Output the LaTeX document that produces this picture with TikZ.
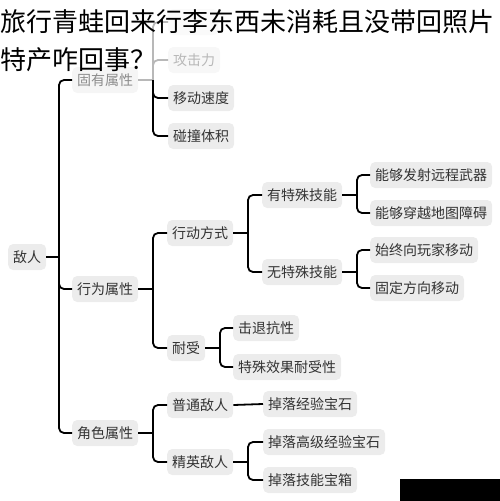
\documentclass[tikz,border=0pt]{standalone}
\usepackage{fontspec}
\usepackage{tikz}
\newfontfamily\cjk{Noto Sans CJK SC}

\begin{document}
\begin{tikzpicture}[x=1pt,y=-1pt,
  leaf/.style={anchor=west,fill=gray!15,rounded corners=5pt,inner xsep=5pt,inner ysep=0pt,
    minimum height=26pt,text=black!80,font=\cjk\fontsize{14}{16}\selectfont},
  faded/.style={fill=gray!8,text=black!45},
  paler/.style={fill=gray!6,text=black!28},
  ghost/.style={fill=gray!4,minimum width=50pt},
  link/.style={line width=1.8pt,rounded corners=5pt},
  pale/.style={draw=black!28}]
\useasboundingbox (0,0) rectangle (500,501);

% nodes
\node[leaf] (enemy) at (8,257) {敌人};
\node[leaf,faded] (innate) at (72,80) {固有属性};
\node[leaf] (behavior) at (72,289) {行为属性};
\node[leaf] (role) at (72,433) {角色属性};

\node[leaf,ghost] (hp) at (168,22) {};
\node[leaf,paler] (atk) at (168,60) {攻击力};
\node[leaf] (speed) at (168,98) {移动速度};
\node[leaf] (size) at (168,136) {碰撞体积};

\node[leaf] (move) at (167,233) {行动方式};
\node[leaf] (endure) at (167,348) {耐受};
\node[leaf] (skill) at (262,195) {有特殊技能};
\node[leaf] (noskill) at (262,272) {无特殊技能};
\node[leaf] (ranged) at (370,175) {能够发射远程武器};
\node[leaf] (pass) at (370,213) {能够穿越地图障碍};
\node[leaf] (chase) at (370,250) {始终向玩家移动};
\node[leaf] (fixdir) at (370,288) {固定方向移动};
\node[leaf] (knock) at (233,328) {击退抗性};
\node[leaf] (effect) at (233,367) {特殊效果耐受性};

\node[leaf] (normal) at (167,405) {普通敌人};
\node[leaf] (elite) at (167,462) {精英敌人};
\node[leaf] (gem) at (263,404) {掉落经验宝石};
\node[leaf] (biggem) at (263,442) {掉落高级经验宝石};
\node[leaf] (chest) at (263,480) {掉落技能宝箱};

% joints
\coordinate (j0) at (59,257);
\coordinate (j1) at (153,80);
\coordinate (j2) at (153,289);
\coordinate (j3) at (248,233);
\coordinate (j4) at (357,195);
\coordinate (j5) at (357,272);
\coordinate (j6) at (220,348);
\coordinate (j7) at (153,433);
\coordinate (j8) at (248,462);

% connectors
\draw[link] (enemy.east) -- (j0);
\draw[link] (j0) |- (innate.west);
\draw[link] (j0) |- (behavior.west);
\draw[link] (j0) |- (role.west);

\draw[link,pale] (innate.east) -- (j1);
\draw[link,pale] (j1) |- (hp.west);
\draw[link,pale] (j1) |- (atk.west);
\draw[link] (j1) |- (speed.west);
\draw[link] (j1) |- (size.west);

\draw[link] (behavior.east) -- (j2);
\draw[link] (j2) |- (move.west);
\draw[link] (j2) |- (endure.west);
\draw[link] (move.east) -- (j3);
\draw[link] (j3) |- (skill.west);
\draw[link] (j3) |- (noskill.west);
\draw[link] (skill.east) -- (j4);
\draw[link] (j4) |- (ranged.west);
\draw[link] (j4) |- (pass.west);
\draw[link] (noskill.east) -- (j5);
\draw[link] (j5) |- (chase.west);
\draw[link] (j5) |- (fixdir.west);
\draw[link] (endure.east) -- (j6);
\draw[link] (j6) |- (knock.west);
\draw[link] (j6) |- (effect.west);

\draw[link] (role.east) -- (j7);
\draw[link] (j7) |- (normal.west);
\draw[link] (j7) |- (elite.west);
\draw[link] (normal.east) -- (gem.west);
\draw[link] (elite.east) -- (j8);
\draw[link] (j8) |- (biggem.west);
\draw[link] (j8) |- (chest.west);

% title over the chart
\node[anchor=west,inner sep=0pt,font=\cjk\fontsize{26}{30}\selectfont] (title1) at (0,22) {旅行青蛙回来行李东西未消耗且没带回照片};
\node[anchor=west,inner sep=0pt,font=\cjk\fontsize{26}{30}\selectfont] (title2) at (0,60) {特产咋回事？};

\fill (400,479) rectangle (500,501);
\end{tikzpicture}
\end{document}
